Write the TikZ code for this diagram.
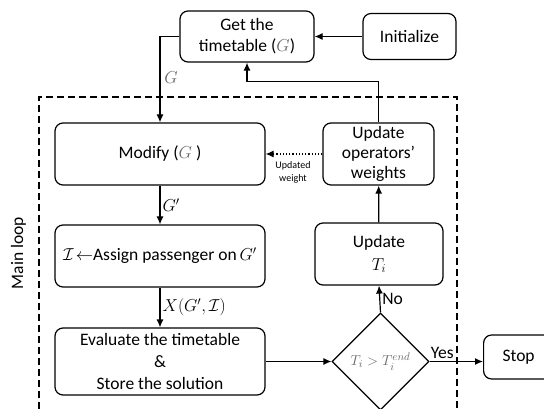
\documentclass[tikz,border=0pt]{standalone}
\usepackage{amsmath}
\usepackage{amssymb}
\usepackage{fontspec}
\setmainfont{Carlito}
\usepackage{tikz}
\usetikzlibrary{positioning,arrows.meta,shapes.geometric}

\begin{document}
\begin{tikzpicture}[
        x=1pt, y=-1pt,
        % Style cho các hộp bo góc
        procbox/.style={
            rectangle,
            rounded corners=8pt,
            draw=black,
            line width=1.2pt,
            align=center,
            font=\fontsize{17.5}{21}\selectfont,
            inner sep=2pt
        },
        % Style cho ô điều kiện
        decision/.style={
            diamond,
            draw=black,
            line width=1.2pt,
            minimum width=97pt,
            minimum height=97pt,
            inner sep=0pt,
            font=\fontsize{15}{18}\selectfont
        },
        % Style cho mũi tên
        arr/.style={
            draw=black,
            line width=1.2pt,
            -{Latex[length=8pt,width=7pt]}
        },
        % Style cho nhãn trên cạnh
        edgelabel/.style={
            font=\fontsize{17.5}{21}\selectfont,
            inner sep=2pt
        },
        smalllabel/.style={
            font=\fontsize{10}{13}\selectfont,
            align=center
        }
    ]

        \useasboundingbox (0,0) rectangle (544,409);

        % --- 1. KHUNG VÒNG LẶP ---
        \draw[line width=2pt, dash pattern=on 7pt off 4pt] (39,420) -- (39,97) -- (457,97) -- (457,420);
        \node[rotate=90, font=\fontsize{17.5}{21}\selectfont] (mainloop) at (18.5,253) {Main loop};

        % --- 2. CÁC HỘP ---
        \node[procbox, minimum width=134pt, minimum height=51pt] (gettt) at (247,36.5) {Get the\\timetable ($\color{black!60}G$)};
        \node[procbox, minimum width=93pt, minimum height=46pt] (init) at (409.5,36.5) {Initialize};

        \node[procbox, minimum width=210pt, minimum height=62pt] (modify) at (160,154) {Modify ($\color{black!60}G$ )};
        \node[procbox, minimum width=111pt, minimum height=62pt, font=\fontsize{17.5}{20}\selectfont] (updw) at (378.5,154) {Update\\operators'\\weights};

        \node[procbox, minimum width=210pt, minimum height=62pt] (assign) at (160,256) {$\mathcal{I}\!\leftarrow$Assign passenger on$\,G'$};
        \node[procbox, minimum width=128pt, minimum height=62pt] (updt) at (379,254) {Update\\[2pt]$T_i$};

        \node[procbox, minimum width=210pt, minimum height=67pt, font=\fontsize{17.5}{22}\selectfont] (evalu) at (160,361.5) {Evaluate the timetable\\\&\\Store the solution};
        \node[decision] (cond) at (380.5,361.5) {$\color{black!60}T_i > T_i^{end}$};

        % hộp Stop bị cắt ở mép phải
        \node[procbox, minimum width=100pt, minimum height=44pt, anchor=west] (stop) at (483,357) {\hspace*{-30pt}Stop};

        % --- 3. CÁC CẠNH ---
        \draw[arr] (init) -- (gettt);
        \draw[arr] (gettt.west) -| (modify.north);
        \node[edgelabel] (glabel) at (171,78) {$\color{black!60}G$};

        \draw[arr] (updw.north) -- ++(0,-41) -| (gettt.south);
        \draw[line width=1.2pt, dotted, -{Latex[length=8pt,width=7pt]}] (updw.west) -- (modify.east);
        \node[smalllabel] (wlabel) at (293,172) {Updated\\weight};

        \draw[arr] (modify) -- node[edgelabel, right] {$G'$} (assign);
        \draw[arr] (assign) -- node[edgelabel, right] {$X(G',\mathcal{I})$} (evalu);

        \draw[arr] (evalu.east) -- (cond.west);
        \draw[arr] (cond.north) -- node[edgelabel, right] {No} (updt.south);
        \draw[arr] (updt) -- (updw);
        \draw[arr] (cond.east) -- node[edgelabel, above, xshift=-14pt] {Yes} (stop.west |- cond.east);

    \end{tikzpicture}
\end{document}
